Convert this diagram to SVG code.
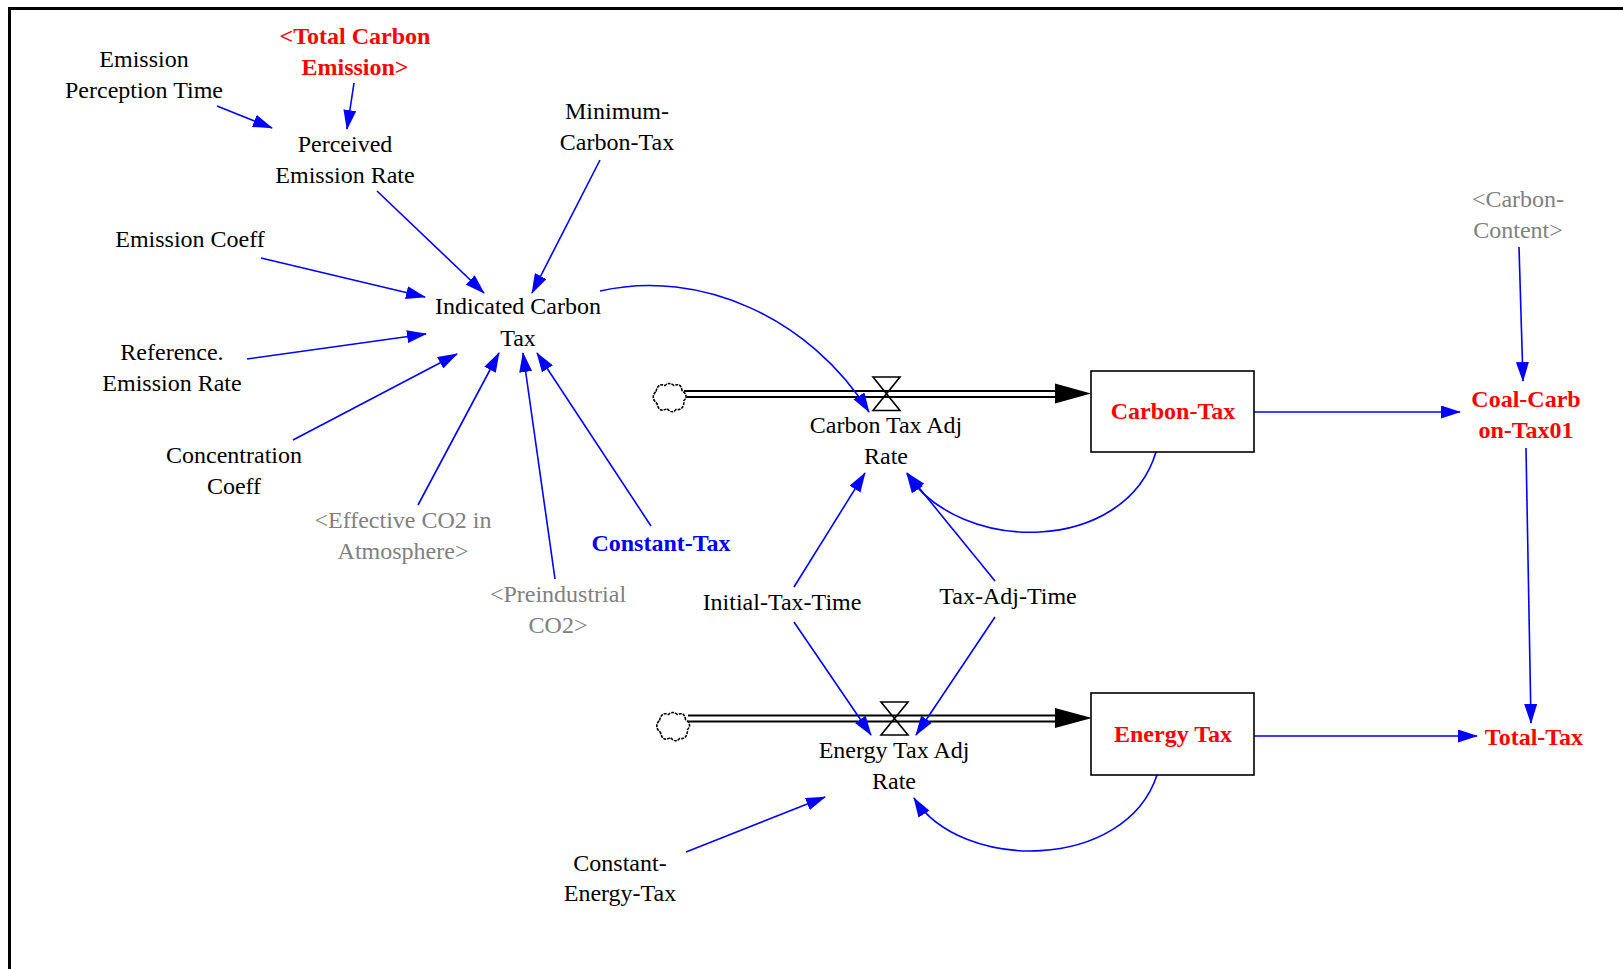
<svg xmlns="http://www.w3.org/2000/svg" width="1623" height="969" viewBox="0 0 1623 969">
<defs>
<style>
text{font-family:"Liberation Serif","Times New Roman",serif;font-size:24px;text-anchor:middle;fill:#000}
.b{font-weight:bold}
.red{fill:#ff0000}
.blue{fill:#0000ff}
.gray{fill:#808080}
.link{fill:none;stroke:#0000ff;stroke-width:1.6;marker-end:url(#ah)}
.box{fill:#fff;stroke:#000;stroke-width:1.6}
.pipeo{fill:none;stroke:#000;stroke-width:8}
.pipei{fill:none;stroke:#fff;stroke-width:4}
.valve{fill:none;stroke:#000;stroke-width:1.6;stroke-linejoin:miter}
.cloud{fill:#fff;stroke:#000;stroke-width:1.6;stroke-dasharray:3 1}
</style>
<marker id="ah" markerUnits="userSpaceOnUse" markerWidth="20" markerHeight="13" viewBox="0 0 20 13" refX="19" refY="6.5" orient="auto">
<path d="M0,0 L20,6.5 L0,13 z" fill="#0000ff"/>
</marker>
<path id="cloudShape" d="M-14,-6 Q-12,-15 -5,-12 Q-1,-16 4,-12 Q11,-15 12,-7 Q19,-2 14,3 Q14,13 6,12 Q2,17 -3,11 Q-11,16 -13,6 Q-20,0 -14,-6 Z"/>
</defs>
<rect width="1623" height="969" fill="#fff"/>
<path d="M9.5,969 L9.5,8.5 L1623,8.5" fill="none" stroke="#000" stroke-width="3"/>

<g id="flows">
<g id="flow-carbon">
<line class="pipeo" x1="684" y1="394" x2="1058" y2="394"/>
<line class="pipei" x1="680" y1="394" x2="1060" y2="394"/>
<path d="M1055,383.5 L1091,393.5 L1055,403.5 Z" fill="#000"/>
<use href="#cloudShape" class="cloud" x="670" y="397.5"/>
<path class="valve" d="M873,377 L900,377 L873,410.5 L900,410.5 Z"/>
</g>
<g id="flow-energy">
<line class="pipeo" x1="688" y1="718.5" x2="1058" y2="718.5"/>
<line class="pipei" x1="684" y1="718.5" x2="1060" y2="718.5"/>
<path d="M1055,708 L1092,718 L1055,728 Z" fill="#000"/>
<use href="#cloudShape" class="cloud" x="673.5" y="726.5"/>
<path class="valve" d="M881,702 L908,702 L881,735 L908,735 Z"/>
</g>
</g>

<g id="connectors">
<line class="link" x1="217" y1="106" x2="272" y2="128"/>
<line class="link" x1="354" y1="83" x2="347" y2="129"/>
<line class="link" x1="377" y1="191" x2="484" y2="293"/>
<line class="link" x1="600" y1="160" x2="532" y2="293"/>
<line class="link" x1="261" y1="258" x2="425" y2="297"/>
<line class="link" x1="247" y1="359" x2="426" y2="334"/>
<line class="link" x1="293" y1="440" x2="457" y2="354"/>
<line class="link" x1="418" y1="505" x2="499" y2="353"/>
<line class="link" x1="555" y1="579" x2="523" y2="353"/>
<line class="link" x1="651" y1="526" x2="537" y2="353"/>
<path class="link" d="M600,291 C700,268 810,318 869,412"/>
<path class="link" d="M1156,452 C1125,555 960,555 907,474"/>
<line class="link" x1="794" y1="587" x2="865" y2="473"/>
<line class="link" x1="995" y1="581" x2="907" y2="473"/>
<line class="link" x1="794" y1="622" x2="871" y2="735"/>
<line class="link" x1="995" y1="617" x2="916" y2="735"/>
<path class="link" d="M1157,775 C1125,872 960,872 914,798"/>
<line class="link" x1="686" y1="852" x2="825" y2="797"/>
<line class="link" x1="1254" y1="412" x2="1460" y2="412"/>
<line class="link" x1="1519" y1="247" x2="1523" y2="381"/>
<line class="link" x1="1526" y1="448" x2="1531" y2="723"/>
<line class="link" x1="1254" y1="736" x2="1477" y2="736"/>
</g>

<g id="emission-perception-time"><text x="144" y="67">Emission</text><text x="144" y="98">Perception Time</text></g>
<g id="total-carbon-emission"><text class="b red" x="355" y="44">&lt;Total Carbon</text><text class="b red" x="355" y="75">Emission&gt;</text></g>
<g id="perceived-emission-rate"><text x="345" y="152">Perceived</text><text x="345" y="183">Emission Rate</text></g>
<g id="minimum-carbon-tax"><text x="617" y="119">Minimum-</text><text x="617" y="150">Carbon-Tax</text></g>
<g id="emission-coeff"><text x="190" y="247">Emission Coeff</text></g>
<g id="indicated-carbon-tax"><text x="518" y="314">Indicated Carbon</text><text x="518" y="346">Tax</text></g>
<g id="reference-emission-rate"><text x="172" y="360">Reference.</text><text x="172" y="391">Emission Rate</text></g>
<g id="concentration-coeff"><text x="234" y="463">Concentration</text><text x="234" y="494">Coeff</text></g>
<g id="effective-co2"><text class="gray" x="403" y="528">&lt;Effective CO2 in</text><text class="gray" x="403" y="559">Atmosphere&gt;</text></g>
<g id="preindustrial-co2"><text class="gray" x="558" y="602">&lt;Preindustrial</text><text class="gray" x="558" y="633">CO2&gt;</text></g>
<g id="constant-tax"><text class="b blue" x="661" y="551">Constant-Tax</text></g>
<g id="carbon-tax-adj-rate"><text x="886" y="433">Carbon Tax Adj</text><text x="886" y="464">Rate</text></g>
<g id="carbon-tax"><rect class="box" x="1091" y="371" width="163" height="81"/><text class="b red" x="1173" y="419">Carbon-Tax</text></g>
<g id="carbon-content"><text class="gray" x="1518" y="207">&lt;Carbon-</text><text class="gray" x="1518" y="238">Content&gt;</text></g>
<g id="coal-carbon-tax01"><text class="b red" x="1526" y="407">Coal-Carb</text><text class="b red" x="1526" y="438">on-Tax01</text></g>
<g id="initial-tax-time"><text x="782" y="610">Initial-Tax-Time</text></g>
<g id="tax-adj-time"><text x="1008" y="604">Tax-Adj-Time</text></g>
<g id="energy-tax-adj-rate"><text x="894" y="758">Energy Tax Adj</text><text x="894" y="789">Rate</text></g>
<g id="energy-tax"><rect class="box" x="1091" y="693" width="163" height="82"/><text class="b red" x="1173" y="742">Energy Tax</text></g>
<g id="total-tax"><text class="b red" x="1534" y="745">Total-Tax</text></g>
<g id="constant-energy-tax"><text x="620" y="871">Constant-</text><text x="620" y="901">Energy-Tax</text></g>
</svg>
